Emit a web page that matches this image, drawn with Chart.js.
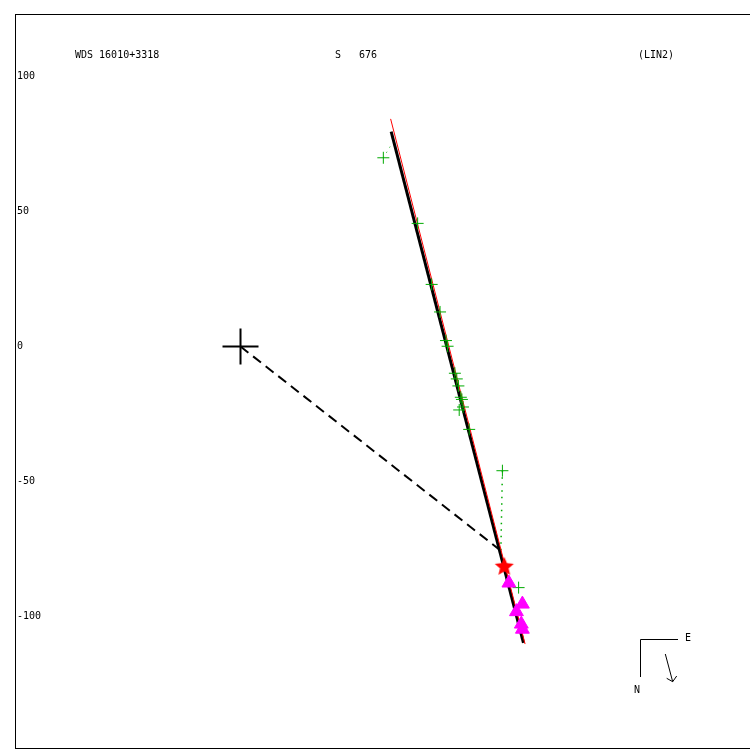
<!DOCTYPE html>
<html>
<head>
<meta charset="utf-8">
<script src="https://cdn.jsdelivr.net/npm/chart.js@4"></script>
<style>
  html, body { margin: 0; padding: 0; background: #fff; }
  canvas { display: block; }
</style>
</head>
<body>
<canvas id="orbitPlot" width="750" height="750"></canvas>
<script>
// measures (green crosses)
const measX = [52.9, 65.6, 70.8, 73.9, 76.1, 76.7, 79.4, 80.1, 80.7, 81.6, 82.0, 82.4, 81.0, 84.7, 97.0, 103.0];
const measY = [69.9, 45.6, 23.0, 12.8, 2.2, 0.1, -9.9, -12.0, -14.6, -18.8, -19.6, -22.4, -23.5, -30.7, -46.0, -89.3];

// speckle measures (magenta triangles)
const triX = [99.4, 104.4, 102.2, 104.0, 104.4];
const triY = [-87.6, -95.4, -98.2, -102.8, -104.7];

// latest position (red star)
const starX = [97.7];
const starY = [-81.6];

// fitted linear path (black) and previous solution (red)
const fitX = [55.8, 104.8];
const fitY = [79.6, -109.8];
const prevX = [55.6, 105.4];
const prevY = [84.3, -110.2];

// primary to current position (dashed)
const dashX = [0, 96.5];
const dashY = [0, -75.7];

// residual dots (measure -> path)
const resA_X = [52.9, 56.0];
const resA_Y = [69.9, 75.0];
const resB_X = [97.0, 96.4];
const resB_Y = [-46.0, -77.0];

const yTicks = [100, 50, 0, -50, -100];

const pts = (xs, ys) => xs.map((x, i) => ({ x: x, y: ys[i] }));

const FONT = 'DejaVu Sans Mono';

// filled five-point star used as point style
function makeStar(r, color) {
    const c = document.createElement('canvas');
    c.width = c.height = r * 2 + 2;
    const g = c.getContext('2d');
    const cx = r + 1, cy = r + 1;
    g.beginPath();
    for (let i = 0; i < 10; i++) {
        const rr = i % 2 === 0 ? r : r * 0.45;
        const a = -Math.PI / 2 + i * Math.PI / 5;
        g.lineTo(cx + rr * Math.cos(a), cy + rr * Math.sin(a));
    }
    g.closePath();
    g.fillStyle = color;
    g.fill();
    return c;
}
const starImg = makeStar(10, '#ff0000');

const framePlugin = {
    id: 'frame',
    afterDraw(chart) {
        const ctx = chart.ctx;
        const a = chart.chartArea;
        ctx.save();
        ctx.strokeStyle = '#000';
        ctx.lineWidth = 1;
        ctx.strokeRect(a.left + 0.5, a.top + 0.5, a.right - a.left, a.bottom - a.top - 1);

        // header texts
        ctx.fillStyle = '#000';
        ctx.font = '10px "' + FONT + '"';
        ctx.textBaseline = 'middle';
        ctx.textAlign = 'left';
        ctx.fillText('WDS 16010+3318', 75, 55);
        ctx.fillText('S   676', 335, 55);
        ctx.fillText('(LIN2)', 638, 55);

        // compass
        ctx.beginPath();
        ctx.moveTo(678, 639.5);
        ctx.lineTo(640.5, 639.5);
        ctx.lineTo(640.5, 677);
        ctx.stroke();
        ctx.fillText('E', 685, 638);
        ctx.fillText('N', 634, 690);
        ctx.beginPath();
        ctx.moveTo(665.3, 654);
        ctx.lineTo(672.7, 681.7);
        ctx.moveTo(666.7, 678.3);
        ctx.lineTo(672.7, 681.7);
        ctx.lineTo(676.7, 676);
        ctx.stroke();
        ctx.restore();
    }
};

const ctx = document.getElementById('orbitPlot').getContext('2d');
new Chart(ctx, {
    type: 'scatter',
    data: {
        datasets: [
            {
                label: 'primary',
                data: [{ x: 0, y: 0 }],
                pointStyle: 'cross',
                pointRadius: 18,
                pointBorderWidth: 2,
                borderColor: '#000',
                order: 1
            },
            {
                label: 'to current',
                data: pts(dashX, dashY),
                showLine: true,
                borderColor: '#000',
                borderWidth: 2,
                borderDash: [10, 6],
                pointRadius: 0,
                order: 6
            },
            {
                label: 'fit',
                data: pts(fitX, fitY),
                showLine: true,
                borderColor: '#000',
                borderWidth: 3,
                pointRadius: 0,
                order: 5
            },
            {
                label: 'previous',
                data: pts(prevX, prevY),
                showLine: true,
                borderColor: '#ff0000',
                borderWidth: 1,
                pointRadius: 0,
                order: 4
            },
            {
                label: 'resA',
                data: pts(resA_X, resA_Y),
                showLine: true,
                borderColor: '#00aa00',
                borderWidth: 1,
                borderDash: [1, 5],
                pointRadius: 0,
                order: 7
            },
            {
                label: 'resB',
                data: pts(resB_X, resB_Y),
                showLine: true,
                borderColor: '#00aa00',
                borderWidth: 1.5,
                borderDash: [1.5, 5],
                pointRadius: 0,
                order: 7
            },
            {
                label: 'measures',
                data: pts(measX, measY),
                pointStyle: 'cross',
                pointRadius: 6,
                pointBorderWidth: 1,
                borderColor: '#00aa00',
                order: 3
            },
            {
                label: 'speckle',
                data: pts(triX, triY),
                pointStyle: 'triangle',
                pointRadius: 8,
                backgroundColor: '#ff00ff',
                borderColor: '#ff00ff',
                pointBorderWidth: 1,
                order: 2
            },
            {
                label: 'latest',
                data: pts(starX, starY),
                pointStyle: starImg,
                pointRadius: 10,
                order: 2
            }
        ]
    },
    options: {
        responsive: false,
        animation: false,
        layout: { autoPadding: false, padding: { left: 15, top: 14, right: 0, bottom: 1 } },
        plugins: {
            legend: { display: false },
            tooltip: { enabled: false },
            title: { display: false }
        },
        scales: {
            x: {
                type: 'linear',
                display: false,
                min: -83.52,
                max: 188.70
            },
            y: {
                type: 'linear',
                position: 'left',
                min: -149.07,
                max: 123.15,
                grid: { display: false, drawTicks: false },
                border: { display: false },
                afterBuildTicks: (scale) => {
                    scale.ticks = yTicks.map(v => ({ value: v }));
                },
                afterFit: (scale) => {
                    scale.width = 0;
                    scale.paddingTop = 0;
                    scale.paddingBottom = 0;
                },
                ticks: {
                    mirror: true,
                    padding: 2,
                    color: '#000',
                    font: { family: FONT, size: 10 },
                    callback: (v) => String(v)
                }
            }
        }
    },
    plugins: [framePlugin]
});
</script>
</body>
</html>
